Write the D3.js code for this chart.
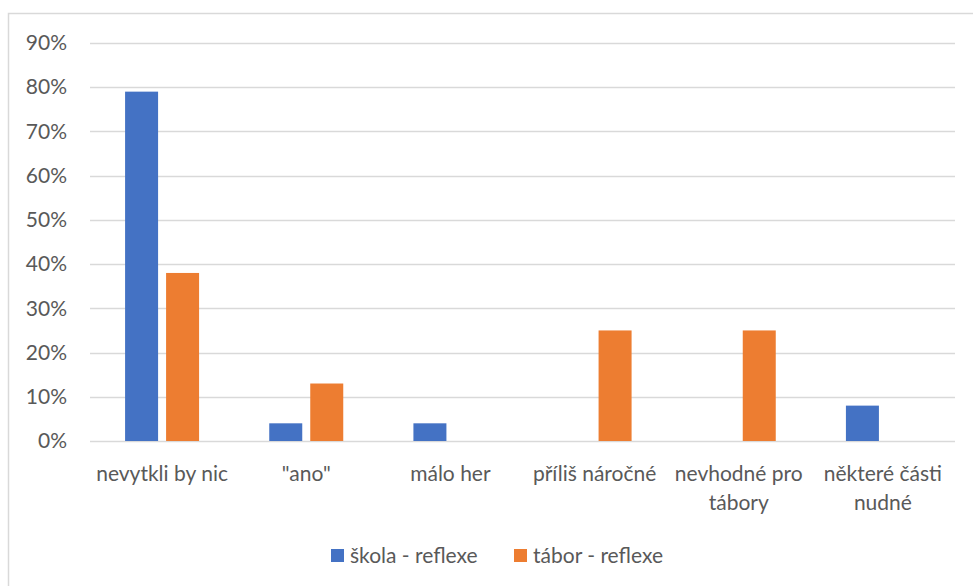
<!DOCTYPE html>
<html lang="cs">
<head>
<meta charset="utf-8">
<title>škola / tábor - reflexe</title>
<script src="https://d3js.org/d3.v7.min.js"></script>
<style>
  body { margin: 0; background: #fff; }
  svg text { font-family: Lato, "Open Sans", sans-serif; fill: #595959; }
</style>
</head>
<body>
<div id="chart"></div>
<script>
// data
var categories = ["nevytkli by nic", "\"ano\"", "málo her", "příliš náročné", "nevhodné pro\ntábory", "některé části\nnudné"];
var skola = [0.79, 0.04, 0.04, 0, 0, 0.08];
var tabor = [0.38, 0.13, 0, 0.25, 0.25, 0];
var seriesNames = ["škola - reflexe", "tábor - reflexe"];
var colors = ["#4472C4", "#ED7D31"];
var yTicks = [0, 0.1, 0.2, 0.3, 0.4, 0.5, 0.6, 0.7, 0.8, 0.9];

var width = 973, height = 586;
var plotLeft = 90, plotRight = 955, plotTop = 43, plotBottom = 441;
var fontSize = "21px";

var svg = d3.select("#chart").append("svg")
  .attr("width", width)
  .attr("height", height);

// chart frame
svg.append("rect")
  .attr("x", 8.5).attr("y", 13.5)
  .attr("width", 1000).attr("height", 700)
  .attr("fill", "none")
  .attr("stroke", "#D9D9D9")
  .attr("stroke-width", 1.5);

var x = d3.scaleBand().domain(categories).range([plotLeft, plotRight]);
var y = d3.scaleLinear().domain([0, 0.9]).range([plotBottom, plotTop]);

// gridlines
svg.append("g").selectAll("line")
  .data(yTicks)
  .enter().append("line")
  .attr("x1", plotLeft).attr("x2", plotRight)
  .attr("y1", function(d){ return Math.round(y(d)) + 0.5; })
  .attr("y2", function(d){ return Math.round(y(d)) + 0.5; })
  .attr("stroke", "#D9D9D9")
  .attr("stroke-width", 1.5);

// y axis labels
var yAxis = d3.axisLeft(y).tickValues(yTicks).tickFormat(d3.format(".0%")).tickSize(0).tickPadding(0);
var gy = svg.append("g").attr("transform", "translate(67,0)").call(yAxis);
gy.select(".domain").remove();
gy.selectAll("text")
  .style("font-size", fontSize)
  .style("font-family", "Lato, sans-serif")
  .attr("fill", "#595959");

// bars
var barW = 33, gap = 8;
var series = [skola, tabor];
series.forEach(function(vals, s){
  svg.append("g").selectAll("rect")
    .data(vals)
    .enter().append("rect")
    .attr("x", function(d, i){
      var c = x(categories[i]) + x.bandwidth() / 2;
      return s == 0 ? c - gap / 2 - barW : c + gap / 2;
    })
    .attr("y", function(d){ return y(d); })
    .attr("width", barW)
    .attr("height", function(d){ return plotBottom - y(d); })
    .attr("fill", colors[s]);
});

// x labels
var xl = svg.append("g").selectAll("text")
  .data(categories)
  .enter().append("text")
  .attr("text-anchor", "middle")
  .style("font-size", fontSize)
  .attr("x", function(d){ return x(d) + x.bandwidth() / 2; })
  .attr("y", 481);
xl.each(function(d){
  var t = d3.select(this);
  d.split("\n").forEach(function(line, i){
    t.append("tspan")
      .attr("x", x(d) + x.bandwidth() / 2)
      .attr("dy", i == 0 ? 0 : 29)
      .text(line);
  });
});

// legend
var legendX = [331, 514];
var lg = svg.append("g").selectAll("g")
  .data(seriesNames)
  .enter().append("g")
  .attr("transform", function(d, i){ return "translate(" + legendX[i] + ",549)"; });
lg.append("rect")
  .attr("width", 13).attr("height", 13)
  .attr("fill", function(d, i){ return colors[i]; });
lg.append("text")
  .attr("x", 19).attr("y", 14)
  .style("font-size", fontSize)
  .text(function(d){ return d; });
</script>
</body>
</html>
